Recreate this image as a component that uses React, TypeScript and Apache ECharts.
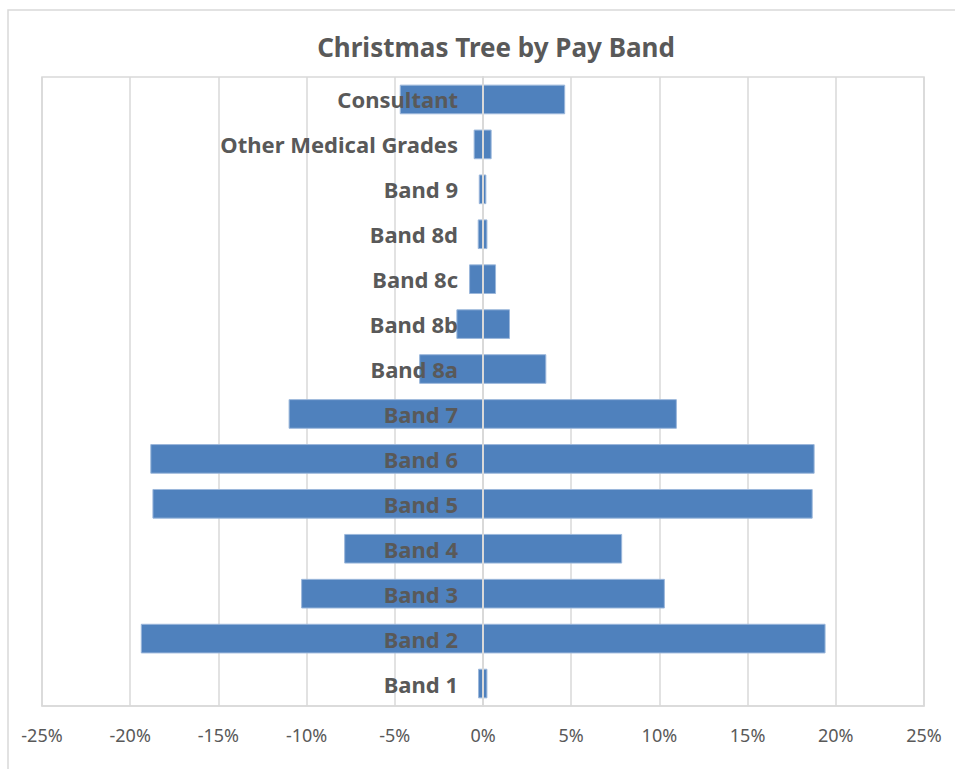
import React, { useEffect, useRef } from "react";
import * as echarts from "echarts";

const categories = [
  "Band 1",
  "Band 2",
  "Band 3",
  "Band 4",
  "Band 5",
  "Band 6",
  "Band 7",
  "Band 8a",
  "Band 8b",
  "Band 8c",
  "Band 8d",
  "Band 9",
  "Other Medical Grades",
  "Consultant",
];

const leftValues = [-0.28, -19.4, -10.31, -7.87, -18.74, -18.86, -11.02, -3.62, -1.51, -0.79, -0.3, -0.24, -0.53, -4.72];
const rightValues = [0.25, 19.42, 10.31, 7.89, 18.69, 18.8, 10.99, 3.59, 1.53, 0.74, 0.25, 0.19, 0.49, 4.66];

const xMin = -25;
const xMax = 25;
const xInterval = 5;

const BAR = "#4f81bd";
const GRAY_TEXT = "#595959";
const GRID = "#d9d9d9";
const FONT = "'Noto Sans', 'Open Sans', sans-serif";

const GRID_LEFT = 42;
const GRID_RIGHT = 31;
const CHART_W = 955;

export default function App() {
  const ref = useRef<HTMLDivElement>(null);

  useEffect(() => {
    if (!ref.current) return;
    const chart = echarts.init(ref.current, null, { renderer: "svg" });
    const barStyle = { color: BAR, borderColor: "#9bb7db", borderWidth: 1 };
    const plotW = CHART_W - GRID_LEFT - GRID_RIGHT;
    const zeroOffset = -((0 - xMin) / (xMax - xMin)) * plotW;
    chart.setOption({
      animation: false,
      backgroundColor: "#ffffff",
      textStyle: { fontFamily: FONT },
      title: {
        text: "Christmas Tree by Pay Band",
        left: 491,
        textAlign: "center",
        top: 29,
        textStyle: { fontFamily: FONT, fontSize: 26, fontWeight: "bold", color: GRAY_TEXT },
      },
      graphic: [
        {
          type: "rect",
          shape: { x: 8, y: 10, width: 1000, height: 1000 },
          style: { fill: "none", stroke: GRID, lineWidth: 1.5 },
          silent: true,
          z: -1,
        },
      ],
      grid: {
        left: GRID_LEFT,
        right: GRID_RIGHT,
        top: 77,
        bottom: 63,
        show: true,
        borderColor: GRID,
        borderWidth: 1.5,
        containLabel: false,
        outerBoundsMode: "none",
      },
      xAxis: {
        type: "value",
        min: xMin,
        max: xMax,
        interval: xInterval,
        axisLine: { show: true, lineStyle: { color: GRID, width: 1.5 } },
        axisTick: { show: false },
        splitLine: { show: true, lineStyle: { color: GRID, width: 1.5 } },
        axisLabel: {
          formatter: (v: number) => `${v}%`,
          color: GRAY_TEXT,
          fontSize: 18,
          fontFamily: FONT,
          margin: 20,
        },
      },
      yAxis: {
        type: "category",
        data: categories,
        z: 10,
        offset: zeroOffset,
        axisLine: { show: true, onZero: false, lineStyle: { color: GRID, width: 2 } },
        axisTick: { show: false },
        axisLabel: {
          color: GRAY_TEXT,
          fontSize: 22,
          fontWeight: "bold",
          fontFamily: FONT,
          margin: 25,
        },
      },
      series: [
        {
          name: "Left",
          type: "bar",
          stack: "tree",
          data: leftValues,
          barCategoryGap: "34%",
          itemStyle: barStyle,
        },
        {
          name: "Right",
          type: "bar",
          stack: "tree",
          data: rightValues,
          barCategoryGap: "34%",
          itemStyle: barStyle,
        },
      ],
    });
    return () => chart.dispose();
  }, []);

  return (
    <div
      ref={ref}
      style={{ position: "absolute", left: 0, top: 0, width: CHART_W, height: 769 }}
    />
  );
}
